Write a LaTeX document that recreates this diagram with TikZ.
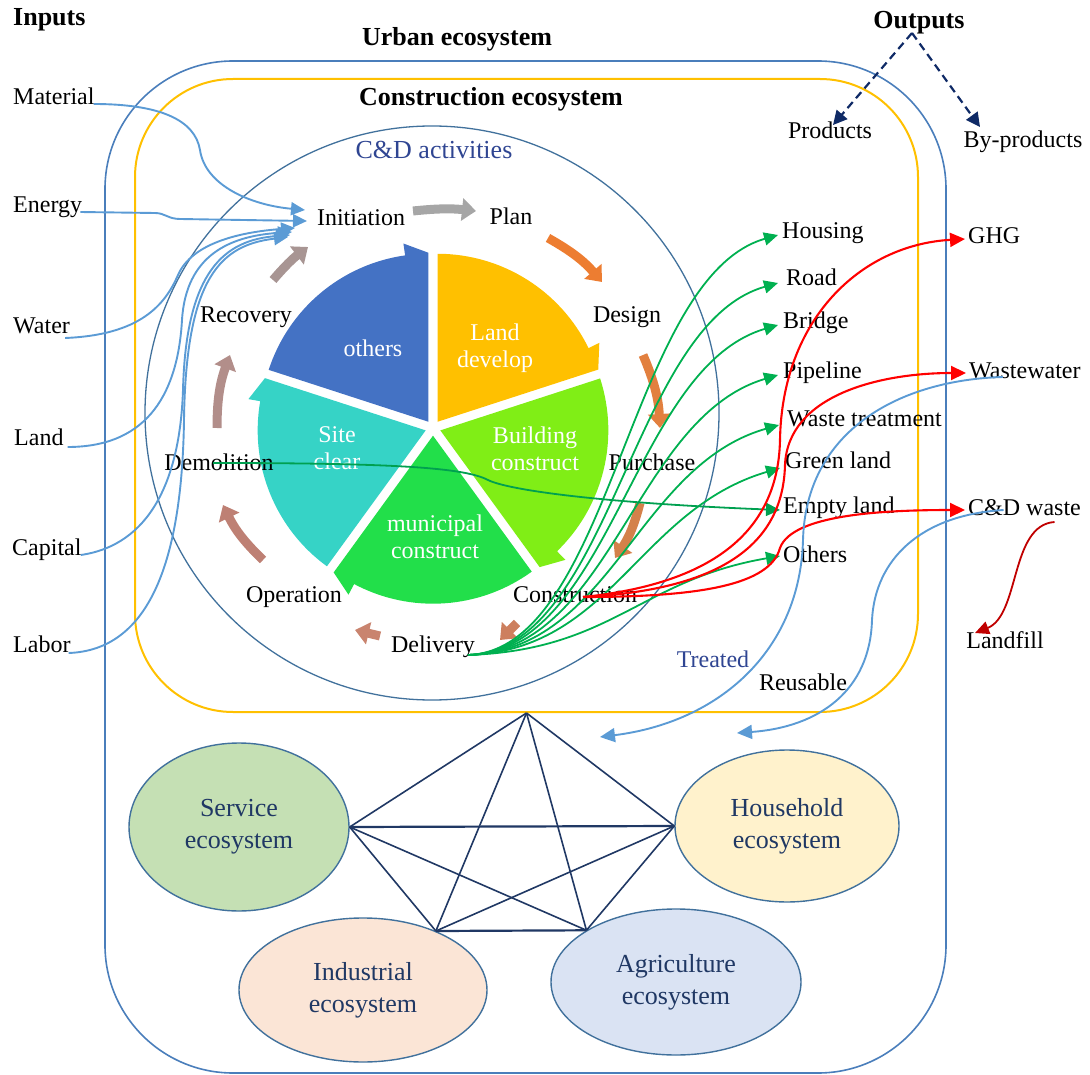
\documentclass[tikz,border=0pt]{standalone}
\usepackage{fontspec}
\setmainfont{Liberation Serif}
\usetikzlibrary{arrows.meta,shapes.geometric,calc}
\definecolor{urbanc}{HTML}{4A7EBB}
\definecolor{consc}{HTML}{FFC000}
\definecolor{cdcircc}{HTML}{41719C}
\definecolor{inblue}{HTML}{5B9BD5}
\definecolor{outgreen}{HTML}{00B050}
\definecolor{demgreen}{HTML}{00A050}
\definecolor{outred}{HTML}{FF0000}
\definecolor{lfred}{HTML}{C00000}
\definecolor{navy}{HTML}{203864}
\definecolor{dnavy}{HTML}{0F2A66}
\definecolor{cdtext}{HTML}{2F4592}
\definecolor{slothers}{HTML}{4472C4}
\definecolor{slland}{HTML}{FFC000}
\definecolor{slbuild}{HTML}{80EE16}
\definecolor{slmuni}{HTML}{22DF4A}
\definecolor{slsite}{HTML}{36D3C6}
\definecolor{servf}{HTML}{C5E0B4}
\definecolor{housef}{HTML}{FFF2CC}
\definecolor{indf}{HTML}{FBE5D6}
\definecolor{agrif}{HTML}{DAE3F3}
\definecolor{ellb}{HTML}{41719C}
\definecolor{cyca}{HTML}{A6A6A6}
\definecolor{cycb}{HTML}{ED7D31}
\definecolor{cycc}{HTML}{E2803F}
\definecolor{cycd}{HTML}{D4814A}
\definecolor{cyce}{HTML}{CD7F5E}
\definecolor{cycf}{HTML}{C9846F}
\definecolor{cycg}{HTML}{BE8074}
\definecolor{cych}{HTML}{B28E8A}
\definecolor{cyci}{HTML}{A89593}
\begin{document}
\begin{tikzpicture}[x=1pt,y=-1pt,
  every node/.style={inner sep=0pt},
  lbl/.style={font=\fontsize{24}{27}\selectfont, text height=16pt, text depth=5pt},
  rlbl/.style={lbl, anchor=west},
  blbl/.style={font=\fontsize{26}{30}\selectfont\bfseries, text height=17pt, text depth=6pt},
  slbl/.style={font=\fontsize{24}{27}\selectfont, text=white, align=center},
  eco/.style={ellipse, draw=ellb, line width=1.4pt, align=center, text=navy, font=\fontsize{26}{32}\selectfont},
  cyc/.style={line width=9pt, -{Triangle[length=14pt,width=22pt]}},
  inarr/.style={draw=inblue, line width=1.9pt, -{Triangle[length=14pt,width=13pt]}},
  garr/.style={draw=outgreen, line width=1.8pt, -{Triangle[length=14pt,width=13pt]}},
  rarr/.style={draw=outred, line width=2.1pt, -{Triangle[length=15pt,width=14pt]}},
  barr/.style={draw=inblue, line width=1.9pt, -{Triangle[length=15pt,width=14pt]}},
  penta/.style={draw=navy, line width=1.6pt},
  dasharr/.style={draw=dnavy, line width=2.2pt, dash pattern=on 8pt off 5pt, -{Triangle[length=14pt,width=14pt]}},
]
\useasboundingbox (0,0) rectangle (1090,1075);

% ---------- containers ----------
\node[draw=urbanc, line width=1.6pt, rounded corners=128pt, minimum width=841pt, minimum height=1012pt] (urban) at (525.5,567) {};
\node[draw=consc, line width=2pt, rounded corners=98pt, minimum width=783pt, minimum height=633pt] (cons) at (526.5,395.5) {};
\node[draw=cdcircc, line width=1.3pt, circle, minimum size=574pt] (cdc) at (432,413) {};

% ---------- pie ----------
\foreach \col/\A/\B/\M in {slothers/-162/-90/-126, slland/-90/-18/-54, slbuild/-18/54/18, slmuni/54/126/90, slsite/126/198/162}{
  \pgfmathsetmacro{\Bp}{\B-8}
  \begin{scope}[shift={($(433,428)+(\M:7.7)$)}]
    \fill[\col] (0,0) -- (\A:168) arc[start angle=\A, end angle=\Bp, radius=168] -- (\Bp:180) -- (\B:169) -- cycle;
  \end{scope}
}
\node[slbl] (tothers) at (373,348) {others};
\node[slbl] (tland) at (495,348) {Land\\develop};
\node[slbl] (tbuild) at (535,449) {Building\\construct};
\node[slbl] (tmuni) at (435,537) {municipal\\construct};
\node[slbl] (tsite) at (337,448) {Site\\clear};

% ---------- lower ecosystems ----------
\node[eco, fill=servf, minimum width=220pt, minimum height=168pt] (serv) at (239,827) {Service\\ecosystem};
\node[eco, fill=housef, minimum width=224pt, minimum height=152pt] (house) at (787,826) {Household\\ecosystem};
\node[eco, fill=indf, minimum width=248pt, minimum height=144pt] (ind) at (363,990) {Industrial\\ecosystem};
\node[eco, fill=agrif, minimum width=250pt, minimum height=146pt] (agri) at (676,982) {Agriculture\\ecosystem};
\draw[penta] (cons.south) -- (serv.east);
\draw[penta] (cons.south) -- (house.west);
\draw[penta] (cons.south) -- (ind.39);
\draw[penta] (cons.south) -- (agri.150);
\draw[penta, line width=2.2pt] (serv.east) -- (house.west);
\draw[penta] (serv.east) -- (ind.39);
\draw[penta] (serv.east) -- (agri.150);
\draw[penta] (house.west) -- (ind.39);
\draw[penta] (house.west) -- (agri.150);
\draw[penta, line width=2.2pt] (ind.39) -- (agri.150);

% ---------- titles ----------
\node[blbl, anchor=west] (inputs) at (13,20) {Inputs};
\node[blbl] (urbanlbl) at (457,40) {Urban ecosystem};
\node[blbl] (conslbl) at (491,100) {Construction ecosystem};
\node[blbl] (outputs) at (919,23) {Outputs};
\node[lbl, text=cdtext, font=\fontsize{26}{30}\selectfont] (cdlbl) at (434,153) {C\&D activities};

% ---------- inputs ----------
\node[rlbl] (mat) at (13,99) {Material};
\node[rlbl] (ene) at (13,207) {Energy};
\node[rlbl] (wat) at (13,328) {Water};
\node[rlbl] (land) at (14,440) {Land};
\node[rlbl] (cap) at (12,550) {Capital};
\node[rlbl] (lab) at (13,647) {Labor};

% ---------- cycle labels ----------
\node[lbl] (init) at (361,220) {Initiation};
\node[lbl] (plan) at (511,219) {Plan};
\node[lbl] (design) at (627,317) {Design};
\node[lbl] (purch) at (652,465) {Purchase};
\node[lbl] (constr) at (575,597) {Construction};
\node[lbl] (deliv) at (433,647) {Delivery};
\node[lbl] (oper) at (294,597) {Operation};
\node[lbl] (demo) at (219,465) {Demolition};
\node[lbl] (recov) at (246,317) {Recovery};

% ---------- outputs ----------
\node[rlbl] (ohousing) at (782,233) {Housing};
\node[rlbl] (oroad) at (786,280) {Road};
\node[rlbl] (obridge) at (783,323) {Bridge};
\node[rlbl] (opipe) at (783,373) {Pipeline};
\node[rlbl] (owaste) at (787,421) {Waste treatment};
\node[rlbl] (ogreen) at (785,463) {Green land};
\node[rlbl] (oempty) at (783,508) {Empty land};
\node[rlbl] (oothers) at (783,557) {Others};
\node[rlbl] (ghg) at (968,238) {GHG};
\node[rlbl] (ww) at (969,373) {Wastewater};
\node[rlbl] (cdw) at (968,510) {C\&D waste};
\node[lbl] (landfill) at (1005,643) {Landfill};
\node[lbl, text=cdtext] (treated) at (713,662) {Treated};
\node[lbl] (reusable) at (803,685) {Reusable};
\node[lbl] (prod) at (830,133) {Products};
\node[lbl] (byp) at (1023,142) {By-products};

% ---------- cycle arrows ----------
\draw[cyc, draw=cyca] ($(init)+(52,-9)$) to[bend left=6] ($(plan)+(-35,-8)$);
\draw[cyc, draw=cycb] ($(plan)+(37,19)$) to[bend left=10] ($(design)+(-25,-35)$);
\draw[cyc, draw=cycc] ($(design)+(16,38)$) to[bend left=10] ($(purch)+(8,-37)$);
\draw[cyc, draw=cycd] ($(purch)+(-12,38)$) to[bend left=10] ($(constr)+(40,-39)$);
\draw[cyc, draw=cyce] ($(constr)+(-58,26)$) to ($(deliv)+(67,-7)$);
\draw[cyc, draw=cycf] ($(deliv)+(-53,-11)$) to ($(oper)+(61,33)$);
\draw[cyc, draw=cycg] ($(oper)+(-31,-37)$) to[bend left=10] ($(demo)+(4,40)$);
\draw[cyc, draw=cych] ($(demo)+(-2,-37)$) to[bend left=10] ($(recov)+(-16,38)$);
\draw[cyc, draw=cyci] ($(recov)+(27,-37)$) to[bend left=6] ($(init)+(-53,27)$);

% ---------- input curves ----------
\draw[inarr] ($(mat.east)+(-1,5)$) .. controls (160,104) and (195,120) .. (200,150) .. controls (205,185) and (250,205) .. ($(init)+(-56,-10)$);
\draw[inarr] ($(ene.east)+(-2,5)$) -- (155,213) .. controls (165,213) and (168,219) .. (180,219) -- ($(init)+(-54,1)$);
\draw[inarr] ($(wat.east)+(-5,10)$) .. controls (140,335) and (165,305) .. (178,275) .. controls (192,243) and (240,232) .. ($(init)+(-66,8)$);
\draw[inarr] ($(land.east)+(4,7)$) .. controls (150,447) and (178,390) .. (182,320) .. controls (186,255) and (230,236) .. ($(init)+(-69,12)$);
\draw[inarr] ($(cap.east)+(-1,5)$) .. controls (150,545) and (180,480) .. (183,390) .. controls (186,270) and (225,240) .. ($(init)+(-71,15)$);
\draw[inarr] ($(lab.east)+(-2,6)$) .. controls (150,650) and (182,560) .. (184,420) .. controls (186,275) and (222,245) .. ($(init)+(-73,17)$);

% ---------- green product arrows ----------
\coordinate (dtail) at ($(deliv)+(35,8)$);
\draw[garr] (dtail) .. controls (612,650) and (628,278) .. ($(ohousing.west)+(-4,2)$);
\draw[garr] (dtail) .. controls (612,650) and (630,325) .. ($(oroad.west)+(-8,3)$);
\draw[garr] (dtail) .. controls (612,650) and (632,368) .. ($(obridge.west)+(-5,2)$);
\draw[garr] (dtail) .. controls (612,650) and (634,418) .. ($(opipe.west)+(-5,2)$);
\draw[garr] (dtail) .. controls (612,650) and (636,466) .. ($(owaste.west)+(-8,4)$);
\draw[garr] (dtail) .. controls (612,650) and (638,510) .. ($(ogreen.west)+(-5,5)$);
\draw[garr] (dtail) .. controls (612,650) and (640,580) .. ($(oothers.west)+(-3,-1)$);
\draw[draw=demgreen, line width=1.8pt, -{Triangle[length=14pt,width=13pt]}] ($(demo)+(-6,-2)$) .. controls (400,463) and (465,468) .. (488,480) .. controls (508,490) and (600,503) .. ($(oempty.west)+(-3,2)$);

% ---------- red by-product arrows ----------
\coordinate (ctail) at ($(constr)+(8,0)$);
\draw[rarr] (ctail) .. controls (700,585) and (778,540) .. (780,440) .. controls (782,320) and (860,245) .. ($(ghg.west)+(-3,1)$);
\draw[rarr] (ctail) .. controls (720,590) and (783,545) .. (785,465) .. controls (788,395) and (880,373) .. ($(ww.west)+(-3,0)$);
\draw[rarr] (ctail) .. controls (700,597) and (770,585) .. (780,548) .. controls (792,515) and (880,510) .. ($(cdw.west)+(-3,0)$);

% ---------- blue return arrows ----------
\coordinate (tr) at (600,737);
\coordinate (ru) at (737,733);
\draw[barr] ($(ww)+(-22,4)$) .. controls (900,380) and (806,430) .. (803,540) .. controls (800,650) and (720,722) .. (tr);
\draw[barr] ($(cdw)+(-21,0)$) .. controls (920,515) and (875,560) .. (872,620) .. controls (870,690) and (820,727) .. (ru);
\draw[draw=lfred, line width=1.8pt, -{Triangle[length=14pt,width=13pt]}] ($(cdw)+(30,12)$) .. controls (1010,525) and (1020,615) .. ($(landfill)+(-30,-10)$);

% ---------- outputs dashed ----------
\draw[dasharr] ($(outputs)+(-7,10)$) -- ($(prod)+(3,-8)$);
\draw[dasharr] ($(outputs)+(-7,10)$) -- ($(byp)+(-43,-15)$);
\end{tikzpicture}
\end{document}
